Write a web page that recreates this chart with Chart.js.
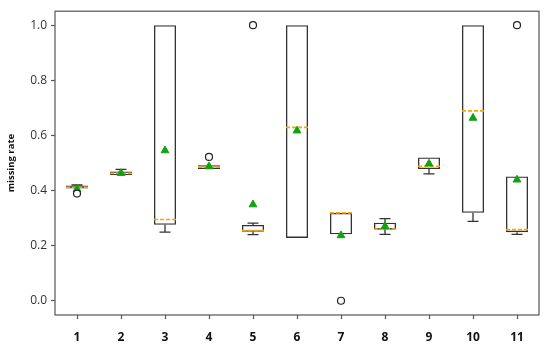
<!DOCTYPE html>
<html>
<head>
<meta charset="utf-8">
<script src="https://cdn.jsdelivr.net/npm/chart.js@4/dist/chart.umd.min.js"></script>
<style>
html,body{margin:0;padding:0;background:#fff;}
#wrap{width:550px;height:351px;position:relative;}
</style>
</head>
<body>
<div id="wrap"><canvas id="c" width="550" height="351"></canvas></div>
<script>
const categories = ['1','2','3','4','5','6','7','8','9','10','11'];
const q1 = [0.407,0.455,0.276,0.478,0.250,0.228,0.241,0.258,0.478,0.319,0.249];
const q3 = [0.418,0.469,1.000,0.492,0.275,1.000,0.319,0.283,0.520,1.000,0.451];
const medians = [0.412,0.462,0.295,0.485,0.255,0.629,0.319,0.260,0.488,0.689,0.258];
const whiskerLow = [0.407,0.455,0.249,0.478,0.240,0.228,0.241,0.241,0.460,0.288,0.241];
const whiskerHigh = [0.420,0.477,1.000,0.492,0.282,1.000,0.319,0.298,0.520,1.000,0.451];
const means = [0.405,0.463,0.545,0.487,0.349,0.617,0.237,0.270,0.497,0.663,0.439];
const outliers = [0.389,null,null,0.522,1.000,null,0.000,null,null,null,1.000];
const yTicks = [0.0,0.2,0.4,0.6,0.8,1.0];

const boxes = categories.map((c,i)=>[q1[i], q3[i]]);
const lineCol = '#333333';

const boxPlugin = {
  id:'boxparts',
  afterDatasetDraw(chart, args){
    if(args.index !== 0) return;
    const ctx = chart.ctx, y = chart.scales.y;
    const meta = chart.getDatasetMeta(0);
    ctx.save();
    meta.data.forEach((bar,i)=>{
      const cx = bar.x, hw = bar.width/2, cw = hw/2;
      ctx.strokeStyle = lineCol; ctx.lineWidth = 1.3; ctx.setLineDash([]);
      const yq1 = y.getPixelForValue(q1[i]), yq3 = y.getPixelForValue(q3[i]);
      const ylo = y.getPixelForValue(whiskerLow[i]), yhi = y.getPixelForValue(whiskerHigh[i]);
      ctx.beginPath();
      if (whiskerHigh[i] !== q3[i]) {
        ctx.moveTo(cx, yq3); ctx.lineTo(cx, yhi);
        ctx.moveTo(cx-cw, yhi); ctx.lineTo(cx+cw, yhi);
      }
      if (whiskerLow[i] !== q1[i]) {
        ctx.moveTo(cx, yq1); ctx.lineTo(cx, ylo);
        ctx.moveTo(cx-cw, ylo); ctx.lineTo(cx+cw, ylo);
      }
      ctx.stroke();
      const ym = y.getPixelForValue(medians[i]);
      ctx.strokeStyle = '#ffa500'; ctx.lineWidth = 1.6; ctx.setLineDash([4,2]);
      ctx.beginPath(); ctx.moveTo(cx-hw, ym); ctx.lineTo(cx+hw, ym); ctx.stroke();
    });
    ctx.restore();
  },
  afterDraw(chart){
    const ctx = chart.ctx, a = chart.chartArea;
    ctx.save();
    ctx.strokeStyle = '#555'; ctx.lineWidth = 1.2;
    ctx.strokeRect(a.left, a.top, a.right-a.left, a.bottom-a.top);
    ctx.restore();
  }
};

new Chart(document.getElementById('c'), {
  type:'bar',
  data:{
    labels:categories,
    datasets:[
      {type:'bar', data:boxes, backgroundColor:'rgba(0,0,0,0)', borderColor:lineCol, borderWidth:1.3,
       borderSkipped:false, categoryPercentage:1.0, barPercentage:0.5, order:3},
      {type:'line', data:means, showLine:false, pointStyle:'triangle', pointRadius:4.5,
       pointBackgroundColor:'#10a310', pointBorderColor:'#10a310', pointBorderWidth:1, order:2},
      {type:'line', data:outliers, showLine:false, pointStyle:'circle', pointRadius:3.5,
       pointBackgroundColor:'#ffffff', pointBorderColor:'#222', pointBorderWidth:1.2, order:1}
    ]
  },
  options:{
    responsive:false, animation:false,
    layout:{padding:{top:10,right:11,left:0,bottom:0}},
    plugins:{legend:{display:false}, tooltip:{enabled:false}},
    scales:{
      x:{
        offset:true,
        grid:{display:true, drawOnChartArea:false, offset:false, tickLength:4, color:'#555', tickWidth:1.2},
        border:{display:false},
        ticks:{padding:11, color:'#111', font:{family:'Open Sans', size:12, weight:'bold'}},
        afterFit(s){ s.height = 36; }
      },
      y:{
        min:-0.0517, max:1.0506,
        afterBuildTicks(s){ s.ticks = yTicks.map(v=>({value:v})); },
        grid:{display:true, drawOnChartArea:false, tickLength:4, color:'#555', tickWidth:1.2},
        border:{display:false},
        ticks:{padding:4, color:'#333', font:{family:'Open Sans', size:12},
               callback:(v)=>Number(v).toFixed(1)},
        title:{display:true, text:'missing rate', color:'#111', padding:{top:6,bottom:2},
               font:{family:'Open Sans', size:9.5, weight:'bold'}},
        afterFit(s){ s.width = 55; }
      }
    }
  },
  plugins:[boxPlugin]
});
</script>
</body>
</html>
